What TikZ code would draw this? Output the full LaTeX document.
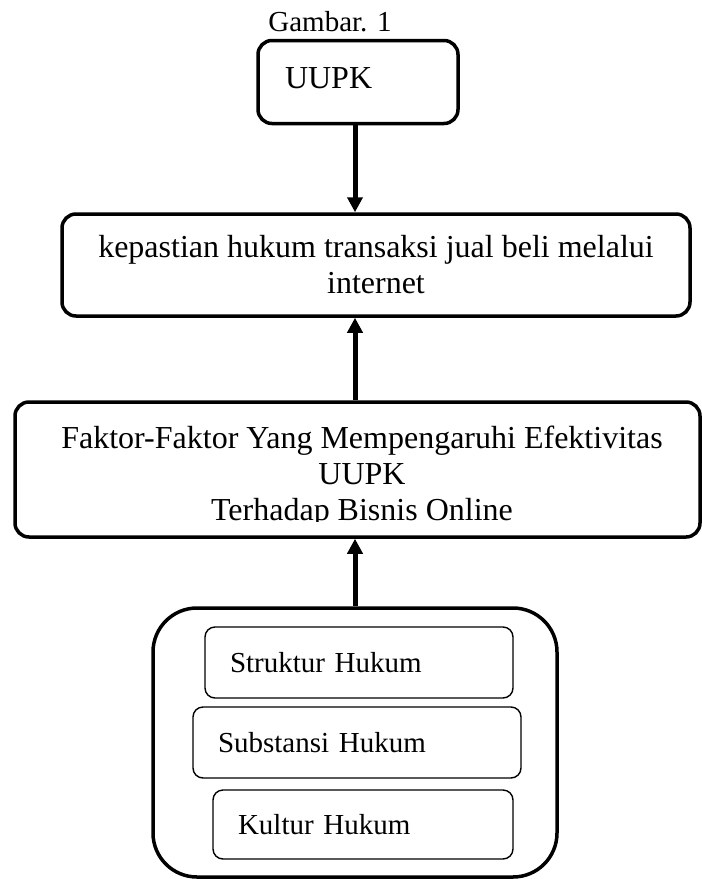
\documentclass[tikz,border=0pt]{standalone}
\usepackage{fontspec}
\setmainfont{Liberation Serif}
\usetikzlibrary{arrows.meta}

\begin{document}
\begin{tikzpicture}[x=1pt,y=-1pt,font=\fontsize{32}{36}\selectfont]

\tikzset{
b/.style={
    draw,
    line width=3.5pt,
    rounded corners=14pt,
    inner sep=0pt,
    align=center
},
s/.style={
    draw,
    line width=1.4pt,
    rounded corners=10pt,
    inner sep=0pt,
    align=left,
    font=\fontsize{29}{34}\selectfont
},
a/.style={-{Triangle[length=15pt,width=15pt]},line width=5pt}
}

\useasboundingbox (0,0) rectangle (702,879);
\coordinate (axis) at (355,0);

\node[font=\fontsize{29}{34}\selectfont] (judul) at (330,22) {Gambar. 1};
\node[b,minimum width=200pt,minimum height=83pt,text width=146pt,text depth=8pt,align=left] (uupk) at (358,82) {UUPK};
\node[b,minimum width=628pt,minimum height=102pt] (kepastian) at (376,265) {kepastian hukum transaksi jual beli melalui\\internet};
\node[b,minimum width=685pt,minimum height=135pt] (faktor) at (357.5,469.5) {};
\begin{scope}
\clip (15,402) rectangle (700,521);
\node[align=center] (faktorteks) at (362,477) {Faktor-Faktor Yang Mempengaruhi Efektivitas\\UUPK\\Terhadap Bisnis Online};
\end{scope}
\node[b,rounded corners=44pt,minimum width=404pt,minimum height=269pt] (unsur) at (355,742.5) {};

\node[s,minimum width=308pt,minimum height=71pt,text width=258pt] (struktur) at (359,662.5) {Struktur Hukum};
\node[s,minimum width=328pt,minimum height=71pt,text width=278pt] (substansi) at (357,742.5) {Substansi Hukum};
\node[s,minimum width=300pt,minimum height=69pt,text width=250pt] (kultur) at (363,824.5) {Kultur Hukum};

\draw[a] (axis |- uupk.south) -- (axis |- kepastian.north);
\draw[a] (axis |- faktor.north) -- (axis |- kepastian.south);
\draw[a] (axis |- unsur.north) -- (axis |- faktor.south);

\end{tikzpicture}
\end{document}
